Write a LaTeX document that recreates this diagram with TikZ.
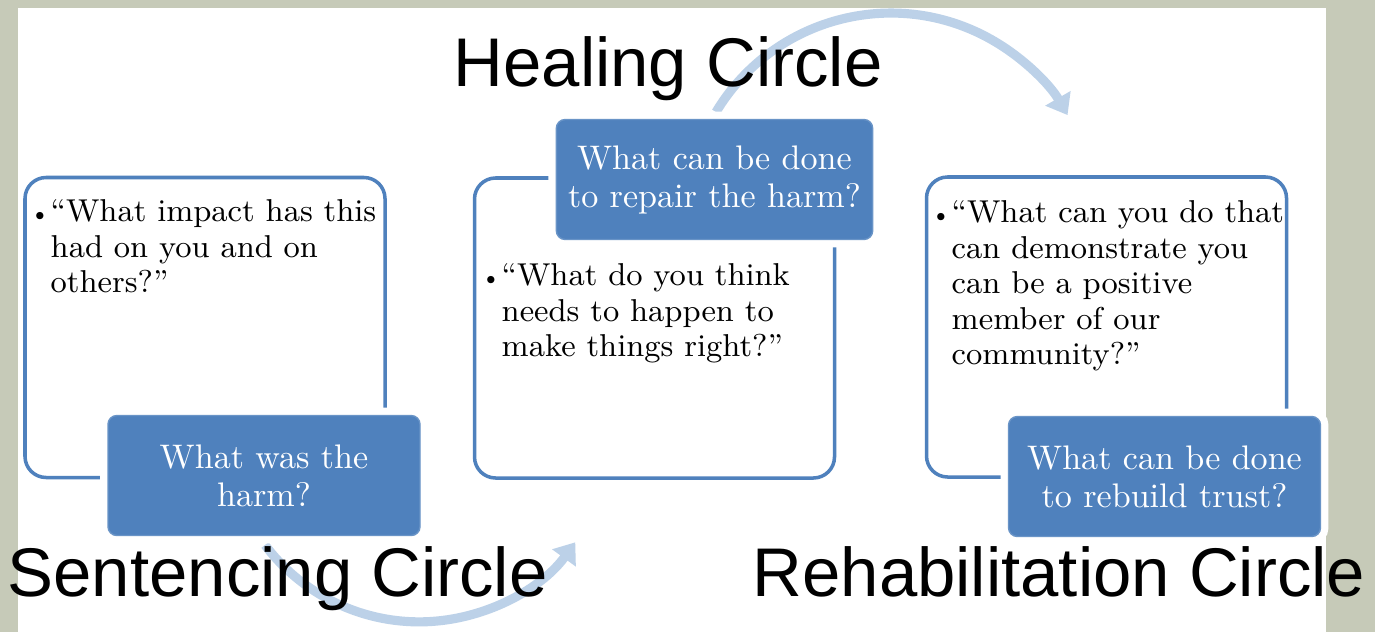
\documentclass[tikz,border=0pt]{standalone}
\usepackage{fontspec}
\newfontfamily\headfont{Liberation Sans}
\usepackage{tikz}
\usetikzlibrary{arrows.meta, calc}

\definecolor{boxblue}{HTML}{4F81BD}
\definecolor{arcblue}{HTML}{BCD1E8}
\definecolor{slidebg}{HTML}{C6CAB8}

\begin{document}
\begin{tikzpicture}[
    outline/.style={draw=boxblue, line width=1pt, rounded corners=6pt, minimum width=3.6cm, minimum height=3cm, inner sep=0pt},
    askbox/.style={fill=boxblue, draw=boxblue!85!white, rounded corners=2.5pt, minimum width=3.12cm, minimum height=1.2cm,
        text=white, align=center, font=\fontsize{9.7}{10.8}\selectfont, preaction={draw=white, line width=4.5pt}},
    qtext/.style={align=left, inner sep=0pt, font=\fontsize{9}{10.1}\selectfont},
    title/.style={inner sep=0pt, font=\headfont\fontsize{19.6}{22}\selectfont},
    flow/.style={arcblue, line width=2.6pt, -{Triangle[width=8pt, length=5.5pt]}}
]
    \useasboundingbox (0,0) rectangle (13.75,-6.32);

    % Slide
    \fill[slidebg] (0,0) rectangle (13.75,-6.32);
    \fill[white] (0.18,-0.08) rectangle (13.26,-6.32);

    % Flow arrows
    \coordinate (hstart) at (7.16,-1.12);
    \coordinate (sstart) at (2.65,-5.45);
    \draw[flow] (hstart) arc[start angle=149, end angle=30, radius=2.04];
    \draw[flow] (sstart) arc[start angle=217, end angle=324, radius=1.93];

    % Circles
    \node[outline] (sbox) at (2.05,-3.275) {};
    \node[outline] (hbox) at (6.545,-3.28) {};
    \node[outline] (rbox) at (11.065,-3.27) {};

    % Questions
    \node[qtext, anchor=north west] (stext) at (0.50,-1.99)
        {\llap{\scriptsize\textbullet}``What impact has this\\had on you and on\\others?''};
    \node[qtext, anchor=north west] (htext) at (5.01,-2.63)
        {\llap{\scriptsize\textbullet}``What do you think\\needs to happen to\\make things right?''};
    \node[qtext, anchor=north west] (rtext) at (9.51,-2.00)
        {\llap{\scriptsize\textbullet}``What can you do that\\can demonstrate you\\can be a positive\\member of our\\community?''};

    % Key questions
    \node[askbox] (sask) at (2.64,-4.755) {What was the\\harm?};
    \node[askbox] (hask) at (7.145,-1.795) {What can be done\\to repair the harm?};
    \node[askbox] (rask) at (11.645,-4.765) {What can be done\\to rebuild trust?};

    % Titles
    \node[title, anchor=base west] (htitle) at (4.53,-0.86) {Healing Circle};
    \node[title, anchor=base west] (stitle) at (0.07,-5.96) {Sentencing Circle};
    \node[title, anchor=base west] (rtitle) at (7.52,-5.96) {Rehabilitation Circle};
\end{tikzpicture}
\end{document}
